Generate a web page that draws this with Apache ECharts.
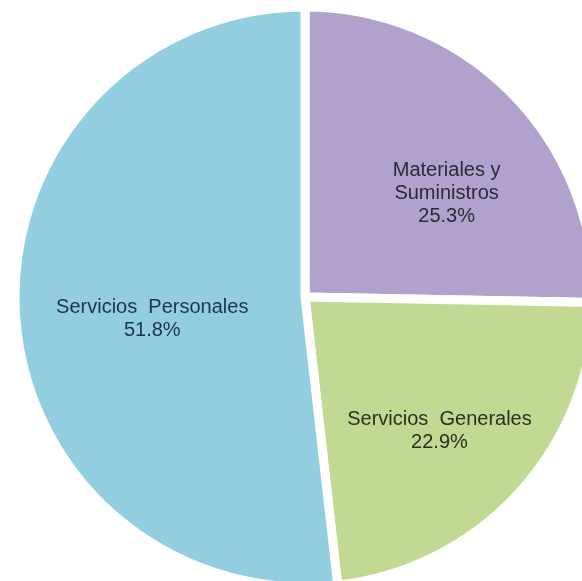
<!DOCTYPE html>
<html>
<head>
    <meta charset="utf-8">
    <title>Pie</title>
    <script src="https://cdn.jsdelivr.net/npm/echarts@6/dist/echarts.min.js"></script>
    <style>
        html, body { margin: 0; padding: 0; background: #fff; }
    </style>
</head>
<body>
    <div id="main" style="width:582px;height:581px;"></div>
    <script type="text/javascript">
        // data
        var categories = ['Materiales y\nSuministros', 'Servicios  Generales', 'Servicios  Personales'];
        var shares = [25.3, 22.9, 51.8];
        var sliceColors = ['#b0a2cd', '#c2d993', '#93cde0'];
        var textColors = ['#2a2a35', '#2a3020', '#1b3350'];
        // nudge labels off the default half-radius spot, like the original
        var labelShift = [[36, 0], [25, 34], [-5, 14]];

        var myChart = echarts.init(document.getElementById('main'));

        var pieData = categories.map(function (name, i) {
            return {
                name: name,
                value: shares[i],
                itemStyle: { color: sliceColors[i] },
                label: { color: textColors[i] }
            };
        });

        var option = {
            backgroundColor: '#ffffff',
            animation: false,
            series: [{
                type: 'pie',
                center: [305, 297],
                radius: 290,
                startAngle: 90,
                clockwise: true,
                avoidLabelOverlap: false,
                itemStyle: { borderColor: '#ffffff', borderWidth: 9 },
                label: {
                    show: true,
                    position: 'inside',
                    fontFamily: 'Liberation Sans, Arial, sans-serif',
                    fontSize: 20,
                    lineHeight: 23,
                    align: 'center',
                    formatter: function (p) {
                        return p.name + '\n' + p.value.toFixed(1) + '%';
                    }
                },
                labelLayout: function (params) {
                    var s = labelShift[params.dataIndex];
                    return { dx: s[0], dy: s[1] };
                },
                emphasis: { disabled: true },
                data: pieData
            }]
        };

        myChart.setOption(option);
    </script>
</body>
</html>
